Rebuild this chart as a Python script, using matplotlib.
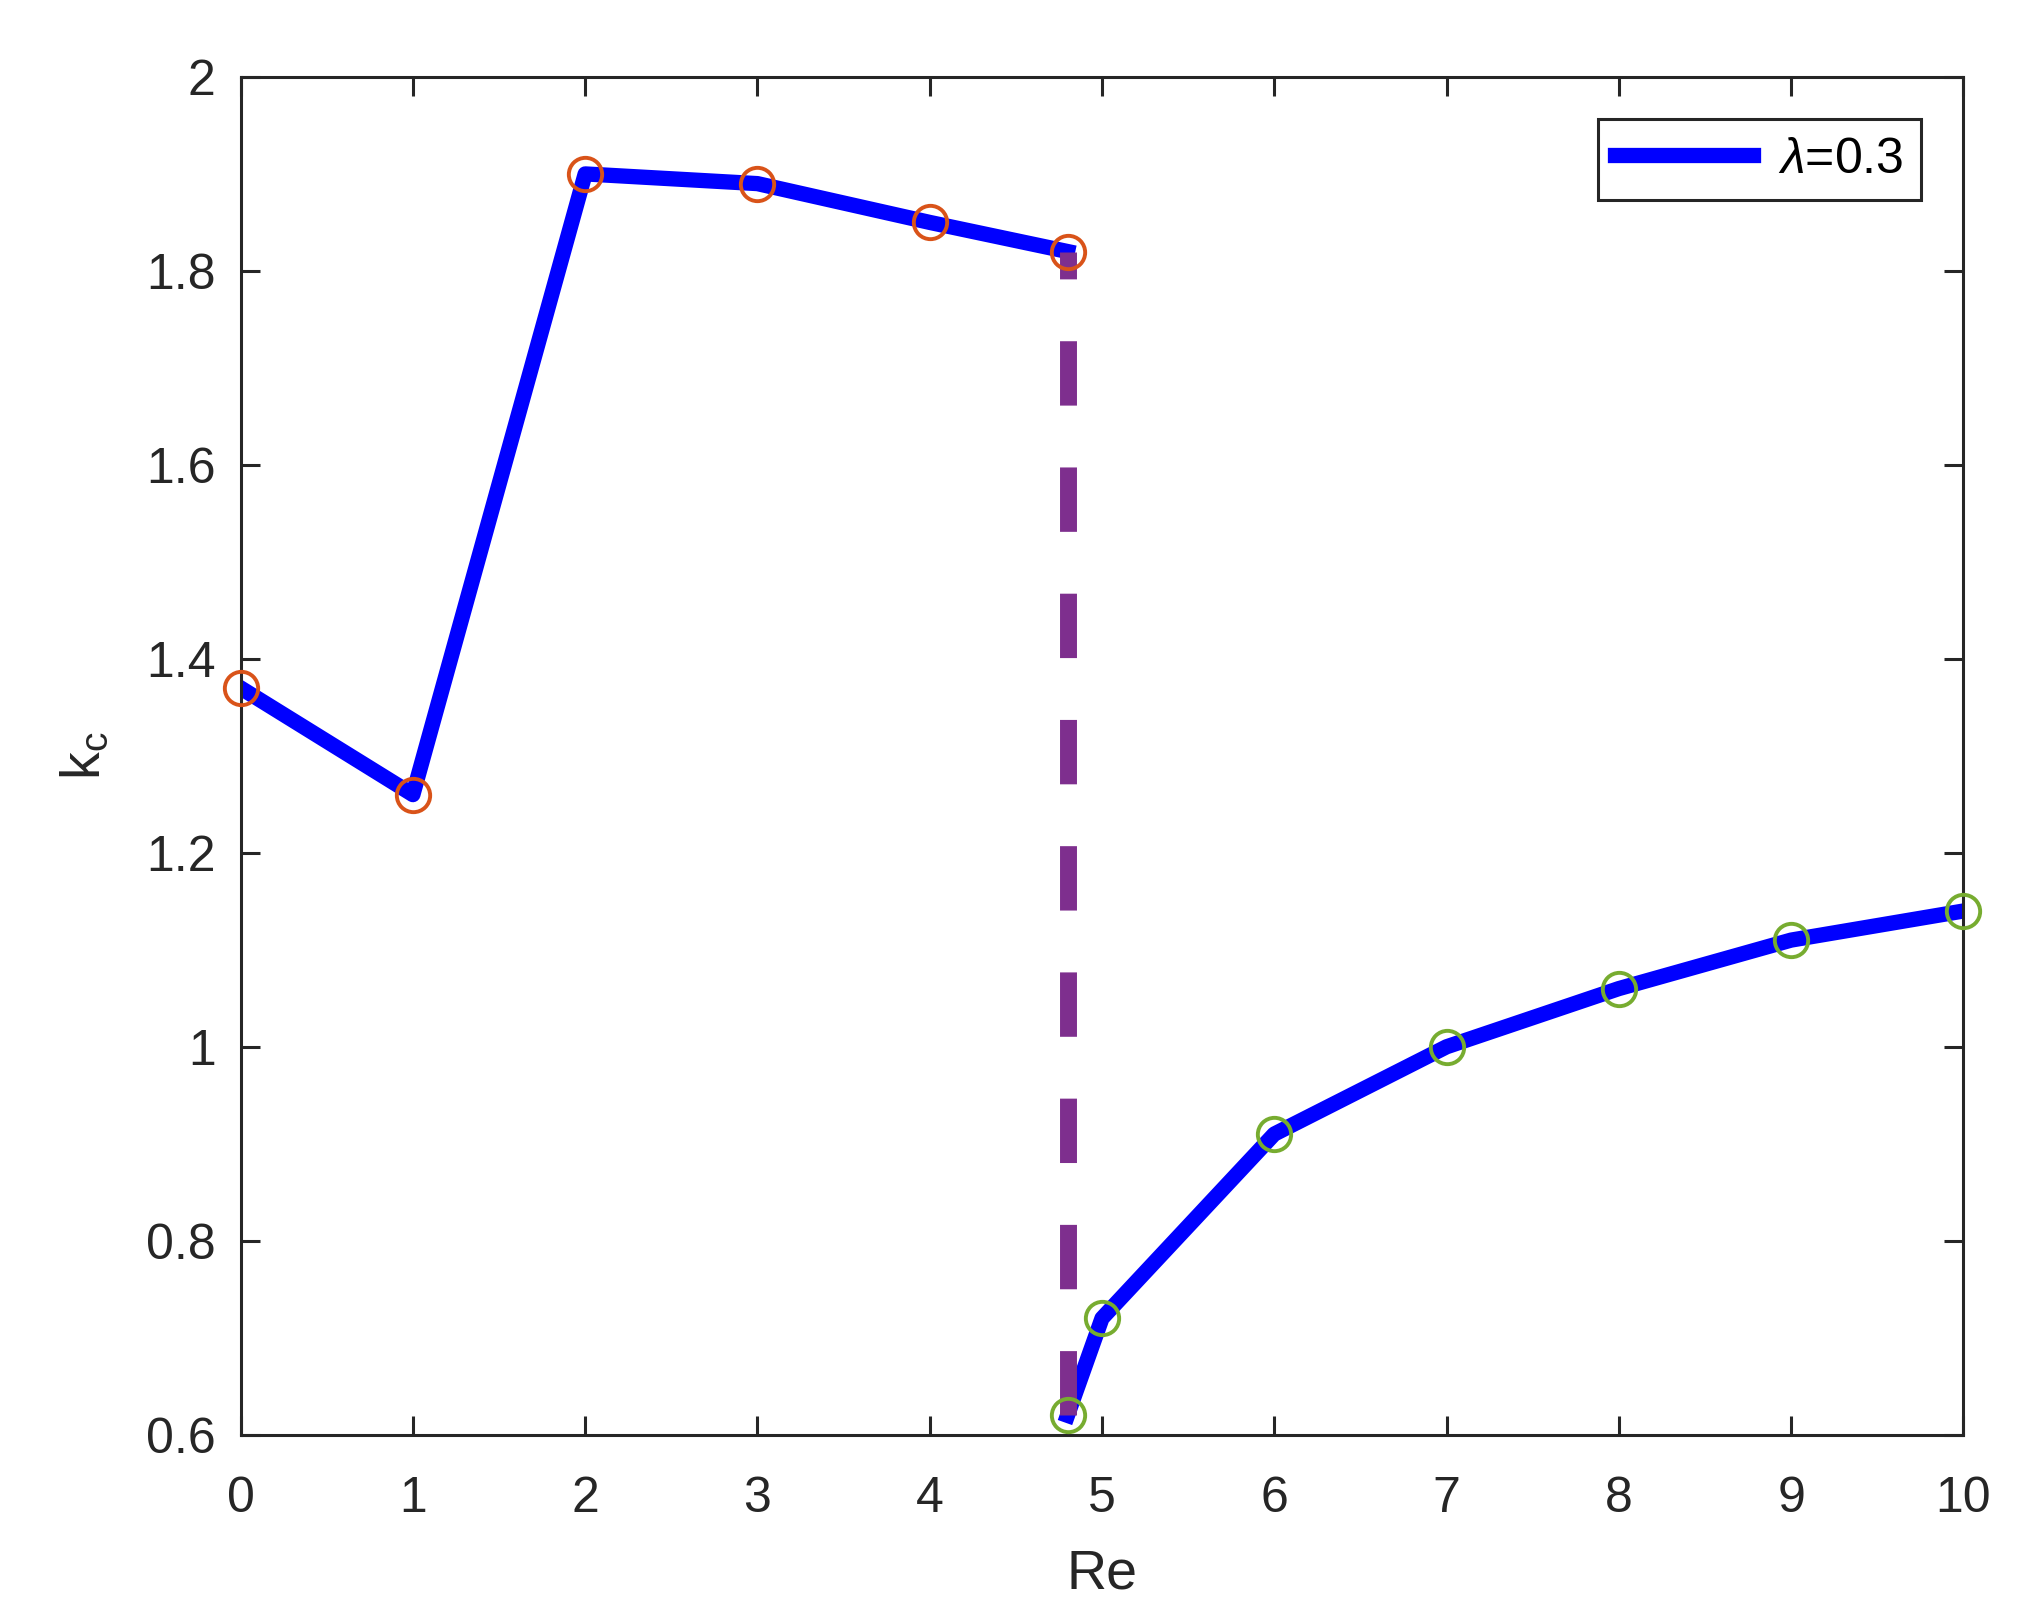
import matplotlib
matplotlib.use('Agg')
import matplotlib.pyplot as plt

plt.rcParams['font.family'] = ['Liberation Sans', 'DejaVu Sans']
plt.rcParams['mathtext.fontset'] = 'custom'
plt.rcParams['mathtext.rm'] = 'Liberation Sans'
plt.rcParams['mathtext.it'] = 'Liberation Sans:italic'

# 左の枝 (Re < 4.8)
re_left = [0, 1, 2, 3, 4, 4.8]
kc_left = [1.37, 1.26, 1.90, 1.89, 1.85, 1.82]
# 右の枝 (Re >= 4.8)
re_right = [4.8, 5, 6, 7, 8, 9, 10]
kc_right = [0.62, 0.72, 0.91, 1.00, 1.06, 1.11, 1.14]
# 遷移点
re_jump = 4.8
kc_jump = [0.62, 1.82]

xticks = list(range(0, 11))
yticks = [0.6, 0.8, 1.0, 1.2, 1.4, 1.6, 1.8, 2.0]
ytick_labels = ['0.6', '0.8', '1', '1.2', '1.4', '1.6', '1.8', '2']

blue = '#0000FF'
orange = '#D95319'
green = '#77AC30'
purple = '#7E2F8E'
axcol = '#262626'

fig = plt.figure(figsize=(10.11, 8.115), dpi=200)
ax = fig.add_axes([0.119, 0.116, 0.852, 0.8366])

ax.plot(re_left, kc_left, color=blue, lw=5.5, label=r'$\lambda$=0.3', zorder=2)
ax.plot(re_right, kc_right, color=blue, lw=5.5, zorder=2)
ax.plot(re_left, kc_left, 'o', ms=12, mfc='none', mec=orange, mew=1.4, zorder=4, clip_on=False)
ax.plot(re_right, kc_right, 'o', ms=12, mfc='none', mec=green, mew=1.4, zorder=4, clip_on=False)
ax.plot([re_jump, re_jump], kc_jump, color=purple, lw=6.1, dashes=(3.8, 3.65),
        solid_capstyle='butt', dash_capstyle='butt', zorder=3)

ax.set_xlim(0, 10)
ax.set_ylim(0.6, 2)
ax.set_xticks(xticks)
ax.set_yticks(yticks)
ax.set_yticklabels(ytick_labels)
ax.tick_params(direction='in', length=6.8, width=1.1, color=axcol, labelcolor=axcol,
               labelsize=18, top=True, right=True)
ax.tick_params(axis='x', pad=15)
ax.tick_params(axis='y', pad=9)
for s in ax.spines.values():
    s.set_linewidth(1.1)
    s.set_color(axcol)

ax.set_xlabel('Re', fontsize=20, color=axcol, labelpad=9.5)
ax.set_ylabel(r'$\mathregular{k_c}$', fontsize=20, color=axcol, labelpad=12)

leg = ax.legend(loc='upper right', fontsize=18, frameon=True, fancybox=False,
                edgecolor=axcol, handlelength=2.75, borderaxespad=0.85,
                borderpad=0.35, handletextpad=0.5)
leg.get_frame().set_linewidth(1.1)
leg.get_frame().set_alpha(1)

fig.savefig('out.png', dpi=200)
